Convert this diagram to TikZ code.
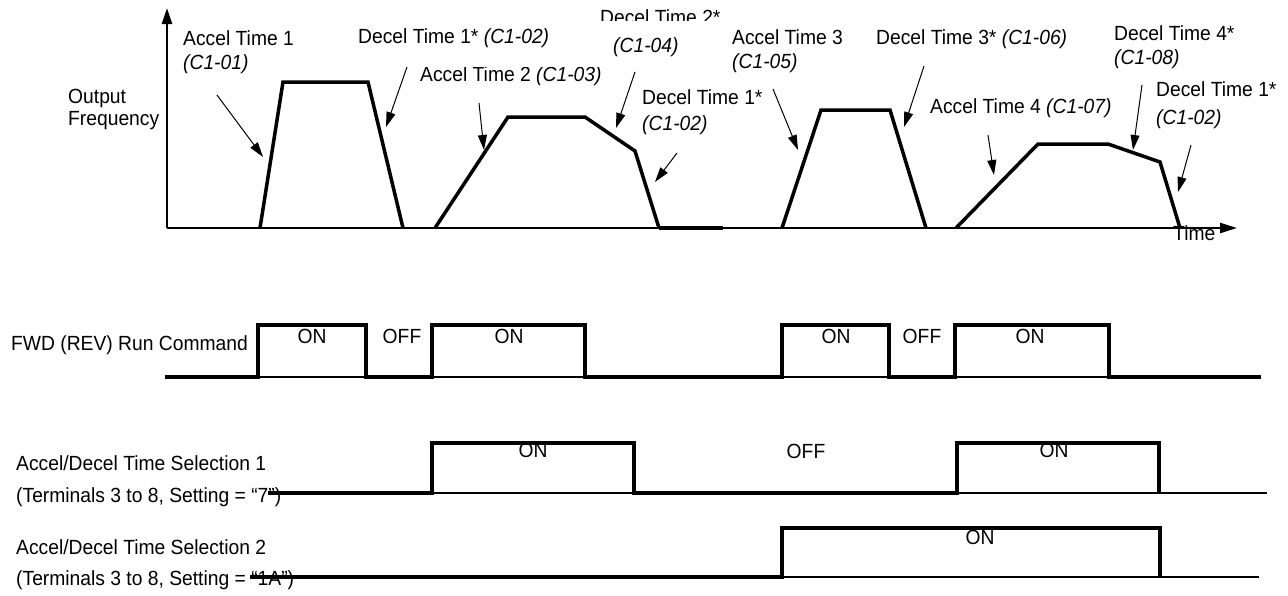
\documentclass[tikz,border=0pt]{standalone}
\usepackage{fontspec}
\setmainfont{Liberation Sans}[FakeStretch=0.94]
\usetikzlibrary{arrows.meta}
\tikzset{
  lbl/.style={anchor=base west, inner sep=0pt, font=\fontsize{20.5}{24}\selectfont},
  sw/.style={anchor=base, inner sep=0pt, font=\fontsize{20.5}{24}\selectfont},
  prof/.style={line width=3.5pt, line join=miter},
  axis/.style={line width=2.5pt},
  note/.style={line width=1pt, -{Triangle[length=15pt,width=9pt]}},
  sig/.style={line width=3.5pt, line join=miter},
  thinbase/.style={line width=1.5pt},
}
\begin{document}
\begin{tikzpicture}[x=1pt,y=-1pt]
\useasboundingbox (0,0) rectangle (1288,595);
% ---------- labels of the frequency graph ----------
\node[lbl] (out1) at (68,103) {Output};
\node[lbl] (out2) at (68,125) {Frequency};
\node[lbl] (a1a) at (183,45) {Accel Time 1};
\node[lbl] (a1b) at (183,69) {\itshape (C1-01)};
\node[lbl] (d1a) at (358,43) {Decel Time 1* {\itshape (C1-02)}};
\begin{scope}
  \clip (590,0) rectangle (740,20.5);
  \node[lbl] (d2a) at (600,24) {Decel Time 2*};
\end{scope}
\node[lbl] (d2b) at (613,52) {\itshape (C1-04)};
\begin{scope}
  \clip (410,67) rectangle (620,95);
  \node[lbl] (a2a) at (420,81) {Accel Time 2 {\itshape (C1-03)}};
\end{scope}
\node[lbl] (d1c) at (642,104) {Decel Time 1*};
\node[lbl] (d1d) at (642,130) {\itshape (C1-02)};
\node[lbl] (a3a) at (732,44) {Accel Time 3};
\node[lbl] (a3b) at (732,68) {\itshape (C1-05)};
\node[lbl] (d3a) at (876,44) {Decel Time 3* {\itshape (C1-06)}};
\node[lbl] (d4a) at (1114,40) {Decel Time 4*};
\node[lbl] (d4b) at (1114,64) {\itshape (C1-08)};
\node[lbl] (a4a) at (930,113) {Accel Time 4 {\itshape (C1-07)}};
\node[lbl] (d1e) at (1156,96) {Decel Time 1*};
\node[lbl] (d1f) at (1156,124) {\itshape (C1-02)};
\node[lbl] (time) at (1173,240) {Time};
% ---------- axes ----------
\coordinate (o) at (167,228);
\coordinate (ytop) at (167,8);
\coordinate (xend) at (1237,228);
\draw[axis, -{Triangle[length=16pt,width=10pt]}] (o) -- (ytop);
\draw[axis, -{Triangle[length=17pt,width=10pt]}] (o) -- (xend);
\draw[line width=4.5pt] (659,228) -- (723,228);
% ---------- frequency profile ----------
\draw[prof] (260,228) -- (283,82) -- (368,82) -- (403,228);
\draw[prof] (435,228) -- (508,117) -- (585,117) -- (635,151) -- (659,228);
\draw[prof] (782,228) -- (821,110) -- (890,110) -- (926,228);
\draw[prof] (956,228) -- (1038,144) -- (1108,144) -- (1160,162) -- (1180,228);
% ---------- annotation arrows ----------
\coordinate (p1s) at (217,95);   \coordinate (p1e) at (263,157);
\coordinate (p2s) at (407,67);   \coordinate (p2e) at (386,127);
\coordinate (p3s) at (479,103);  \coordinate (p3e) at (484,150);
\coordinate (p4s) at (635,72);   \coordinate (p4e) at (616,128);
\coordinate (p5s) at (677,153);  \coordinate (p5e) at (655,182);
\coordinate (p6s) at (773,89);   \coordinate (p6e) at (798,150);
\coordinate (p7s) at (924,66);   \coordinate (p7e) at (904,127);
\coordinate (p8s) at (988,135);  \coordinate (p8e) at (994,175);
\coordinate (p9s) at (1142,85);  \coordinate (p9e) at (1133,150);
\coordinate (p10s) at (1191,145); \coordinate (p10e) at (1178,192);
\foreach \i in {1,...,10} \draw[note] (p\i s) -- (p\i e);
% ---------- lower labels ----------
\node[lbl] (fwd) at (11,350) {FWD (REV) Run Command};
\node[lbl] (s1a) at (16,470) {Accel/Decel Time Selection 1};
\node[lbl] (s1b) at (16,502) {(Terminals 3 to 8, Setting = “7”)};
\node[lbl] (s2a) at (16,554) {Accel/Decel Time Selection 2};
\node[lbl] (s2b) at (16,585) {(Terminals 3 to 8, Setting = “1A”)};
\node[sw] (f1) at (312,343.5) {ON};
\node[sw] (f2) at (402,343.5) {OFF};
\node[sw] (f3) at (509,343.5) {ON};
\node[sw] (f4) at (836,343.5) {ON};
\node[sw] (f5) at (922,343.5) {OFF};
\node[sw] (f6) at (1030,343.5) {ON};
\node[sw] (t1) at (533,457.5) {ON};
\node[sw] (t2) at (806,458) {OFF};
\node[sw] (t3) at (1054,457.5) {ON};
\node[sw] (u1) at (980,544.5) {ON};
% ---------- signals ----------
\draw[thinbase] (165,377) -- (1261,377);
\draw[sig] (165,377) -- (258,377) -- (258,325) -- (366,325) -- (366,377) -- (432,377)
  -- (432,325) -- (585,325) -- (585,377) -- (782,377) -- (782,325) -- (889,325)
  -- (889,377) -- (955,377) -- (955,325) -- (1109,325) -- (1109,377) -- (1261,377);
\draw[thinbase] (268,493) -- (1267,493);
\draw[sig] (268,493) -- (432,493) -- (432,443) -- (634,443) -- (634,493) -- (957,493)
  -- (957,443) -- (1159,443) -- (1159,493);
\draw[line width=2.5pt] (1157,493) -- (1267,493);
\draw[thinbase] (250,577) -- (1259,577);
\draw[sig] (250,577) -- (782,577) -- (782,528) -- (1160,528) -- (1160,577);
\draw[line width=2.5pt] (1158,577) -- (1259,577);
\end{tikzpicture}
\end{document}
